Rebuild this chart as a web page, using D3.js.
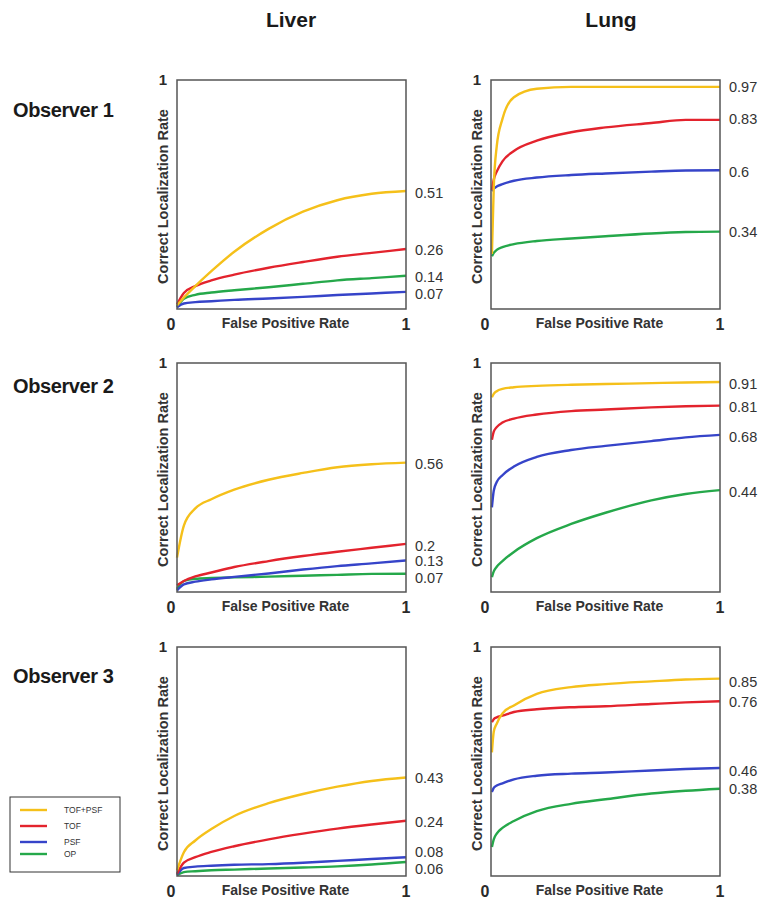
<!DOCTYPE html>
<html>
<head>
<meta charset="utf-8">
<script src="https://cdn.jsdelivr.net/npm/d3@7"></script>
<style>
  body { margin: 0; background: #fff; }
  svg { display: block; font-family: "Liberation Sans", Arial, sans-serif; }
</style>
</head>
<body>
<div id="main"></div>
<script>
// data
const organs = ['Liver', 'Lung'];
const observers = ['Observer 1', 'Observer 2', 'Observer 3'];
const methods = ['TOF+PSF', 'TOF', 'PSF', 'OP'];
const methodColors = ['#f5c01a', '#e3232d', '#3644c9', '#25a84a'];

// false positive rate sample points
const liverFpr = [0, 0.03, 0.08, 0.15, 0.25, 0.4, 0.55, 0.7, 0.85, 1];
const lungFpr = [0.004, 0.012, 0.025, 0.05, 0.1, 0.2, 0.35, 0.5, 0.7, 0.85, 1];

// correct localization rate, order: TOF+PSF, TOF, PSF, OP
const liverObs1 = [
  [0.015, 0.05, 0.10, 0.165, 0.25, 0.35, 0.425, 0.475, 0.503, 0.515],
  [0.02, 0.07, 0.10, 0.125, 0.15, 0.18, 0.205, 0.228, 0.245, 0.262],
  [0.008, 0.024, 0.03, 0.034, 0.04, 0.046, 0.053, 0.061, 0.068, 0.075],
  [0.01, 0.045, 0.062, 0.072, 0.082, 0.095, 0.11, 0.125, 0.135, 0.145]
];
const liverObs2 = [
  [0.15, 0.29, 0.365, 0.405, 0.447, 0.49, 0.52, 0.545, 0.558, 0.565],
  [0.029, 0.048, 0.068, 0.085, 0.109, 0.135, 0.157, 0.176, 0.193, 0.21],
  [0.007, 0.033, 0.045, 0.055, 0.066, 0.081, 0.098, 0.113, 0.125, 0.138],
  [0.014, 0.048, 0.058, 0.061, 0.064, 0.067, 0.071, 0.075, 0.079, 0.08]
];
const liverObs3 = [
  [0.025, 0.104, 0.155, 0.205, 0.262, 0.318, 0.358, 0.39, 0.415, 0.43],
  [0.01, 0.058, 0.082, 0.105, 0.13, 0.16, 0.185, 0.207, 0.225, 0.241],
  [0.006, 0.035, 0.041, 0.045, 0.049, 0.052, 0.058, 0.066, 0.074, 0.082],
  [0.003, 0.017, 0.021, 0.025, 0.028, 0.033, 0.037, 0.042, 0.05, 0.061]
];
const lungObs1 = [
  [0.24, 0.53, 0.71, 0.83, 0.925, 0.962, 0.97, 0.97, 0.97, 0.97, 0.97],
  [0.52, 0.565, 0.60, 0.645, 0.69, 0.735, 0.772, 0.793, 0.812, 0.826, 0.826],
  [0.515, 0.525, 0.535, 0.545, 0.56, 0.574, 0.585, 0.592, 0.60, 0.605, 0.606],
  [0.23, 0.245, 0.258, 0.27, 0.283, 0.297, 0.308, 0.318, 0.33, 0.336, 0.338]
];
const lungObs2 = [
  [0.85, 0.865, 0.877, 0.887, 0.894, 0.90, 0.905, 0.908, 0.912, 0.915, 0.917],
  [0.665, 0.70, 0.72, 0.74, 0.757, 0.775, 0.79, 0.797, 0.806, 0.811, 0.814],
  [0.37, 0.442, 0.48, 0.51, 0.548, 0.59, 0.62, 0.638, 0.659, 0.675, 0.686],
  [0.065, 0.09, 0.11, 0.135, 0.175, 0.235, 0.297, 0.346, 0.40, 0.428, 0.445]
];
const lungObs3 = [
  [0.54, 0.63, 0.665, 0.71, 0.745, 0.795, 0.825, 0.838, 0.85, 0.858, 0.862],
  [0.672, 0.685, 0.693, 0.70, 0.716, 0.728, 0.737, 0.741, 0.751, 0.758, 0.763],
  [0.367, 0.385, 0.395, 0.405, 0.422, 0.438, 0.447, 0.452, 0.461, 0.467, 0.472],
  [0.127, 0.16, 0.185, 0.21, 0.24, 0.283, 0.315, 0.335, 0.36, 0.372, 0.381]
];

// end-of-curve value labels
const liverEndLabels = [
  ['0.51', '0.26', '0.07', '0.14'],
  ['0.56', '0.2', '0.13', '0.07'],
  ['0.43', '0.24', '0.08', '0.06']
];
const lungEndLabels = [
  ['0.97', '0.83', '0.6', '0.34'],
  ['0.91', '0.81', '0.68', '0.44'],
  ['0.85', '0.76', '0.46', '0.38']
];

// layout
const W = 768;
const H = 904;
const colX = [177, 491];
const rowY = [80, 363, 647];
const PW = 229;
const PH = 229;
const titleX = [291, 611];
const observerBaseline = [117, 393, 683];

const panels = [
  { col: 0, row: 0, fpr: liverFpr, series: liverObs1, labels: liverEndLabels[0] },
  { col: 0, row: 1, fpr: liverFpr, series: liverObs2, labels: liverEndLabels[1] },
  { col: 0, row: 2, fpr: liverFpr, series: liverObs3, labels: liverEndLabels[2] },
  { col: 1, row: 0, fpr: lungFpr, series: lungObs1, labels: lungEndLabels[0] },
  { col: 1, row: 1, fpr: lungFpr, series: lungObs2, labels: lungEndLabels[1] },
  { col: 1, row: 2, fpr: lungFpr, series: lungObs3, labels: lungEndLabels[2] }
];

const svg = d3.select('#main').append('svg').attr('width', W).attr('height', H);

// column titles
svg.selectAll('.col-title')
  .data(organs)
  .enter()
  .append('text')
  .attr('class', 'col-title')
  .attr('x', (d, i) => titleX[i])
  .attr('y', 27)
  .attr('text-anchor', 'middle')
  .style('font-size', '21px')
  .style('font-weight', 'bold')
  .style('fill', '#1a1a1a')
  .text((d) => d);

// row titles
svg.selectAll('.row-title')
  .data(observers)
  .enter()
  .append('text')
  .attr('class', 'row-title')
  .attr('x', 13)
  .attr('y', (d, i) => observerBaseline[i])
  .style('font-size', '20px')
  .style('font-weight', 'bold')
  .style('letter-spacing', '-0.4px')
  .style('fill', '#1a1a1a')
  .text((d) => d);

const drawPanel = (p) => {
  const x0 = colX[p.col];
  const y0 = rowY[p.row];
  const g = svg.append('g').attr('transform', `translate(${x0},${y0})`);

  const xScale = d3.scaleLinear().domain([0, 1]).range([0, PW]);
  const yScale = d3.scaleLinear().domain([0, 1]).range([PH, 0]);

  const line = d3.line()
    .x((d) => xScale(d[0]))
    .y((d) => yScale(d[1]))
    .curve(d3.curveMonotoneX);

  // curves, drawn bottom-up so yellow sits on top
  const order = [3, 2, 1, 0];
  order.forEach((k) => {
    const pts = p.fpr.map((f, i) => [f, p.series[k][i]]);
    g.append('path')
      .attr('d', line(pts))
      .attr('fill', 'none')
      .attr('stroke', methodColors[k])
      .attr('stroke-width', 2.4);
  });

  // frame
  g.append('rect')
    .attr('x', 0)
    .attr('y', 0)
    .attr('width', PW)
    .attr('height', PH)
    .attr('fill', 'none')
    .attr('stroke', '#555')
    .attr('stroke-width', 1.5);

  // axis numbers
  g.append('text')
    .attr('x', -10)
    .attr('y', yScale(1) + 5)
    .attr('text-anchor', 'end')
    .style('font-size', '15px')
    .style('font-weight', 'bold')
    .style('fill', '#2a2a2a')
    .text('1');
  g.append('text')
    .attr('x', xScale(0) - 6)
    .attr('y', PH + 21)
    .attr('text-anchor', 'middle')
    .style('font-size', '16px')
    .style('font-weight', 'bold')
    .style('fill', '#2a2a2a')
    .text('0');
  g.append('text')
    .attr('x', xScale(1))
    .attr('y', PH + 21)
    .attr('text-anchor', 'middle')
    .style('font-size', '16px')
    .style('font-weight', 'bold')
    .style('fill', '#2a2a2a')
    .text('1');

  // axis titles
  g.append('text')
    .attr('x', PW / 2 - 6)
    .attr('y', PH + 19)
    .attr('text-anchor', 'middle')
    .style('font-size', '14px')
    .style('font-weight', 'bold')
    .style('fill', '#333')
    .text('False Positive Rate');
  g.append('text')
    .attr('transform', `translate(-9,${PH / 2 + 2}) rotate(-90)`)
    .attr('text-anchor', 'middle')
    .style('font-size', '14.5px')
    .style('font-weight', 'bold')
    .style('fill', '#333')
    .text('Correct Localization Rate');

  // end labels, nudged apart where they crowd
  const lab = p.labels
    .map((t) => ({ t, y: yScale(+t) }))
    .sort((a, b) => a.y - b.y);
  const gap = 17;
  for (let i = 1; i < lab.length; i++) {
    if (lab[i].y - lab[i - 1].y < gap) {
      const mid = (lab[i].y + lab[i - 1].y) / 2;
      lab[i - 1].y = Math.min(lab[i - 1].y, mid - gap / 2);
      lab[i].y = lab[i - 1].y + gap;
    }
  }
  g.selectAll('.end-label')
    .data(lab)
    .enter()
    .append('text')
    .attr('class', 'end-label')
    .attr('x', PW + 9)
    .attr('y', (d) => d.y + 5.5)
    .style('font-size', '14.5px')
    .style('fill', '#333')
    .text((d) => d.t);
};

panels.forEach(drawPanel);

// legend
const legend = svg.append('g').attr('transform', 'translate(10,797)');
legend.append('rect')
  .attr('width', 110)
  .attr('height', 75)
  .attr('fill', '#fff')
  .attr('stroke', '#333')
  .attr('stroke-width', 1);
const legendY = [13, 29, 45, 57];
methods.forEach((m, i) => {
  legend.append('line')
    .attr('x1', 10)
    .attr('x2', 37)
    .attr('y1', legendY[i])
    .attr('y2', legendY[i])
    .attr('stroke', methodColors[i])
    .attr('stroke-width', 2.4);
  legend.append('text')
    .attr('x', 54)
    .attr('y', legendY[i] + 3)
    .style('font-size', '8.5px')
    .style('fill', '#333')
    .text(m);
});
</script>
</body>
</html>
